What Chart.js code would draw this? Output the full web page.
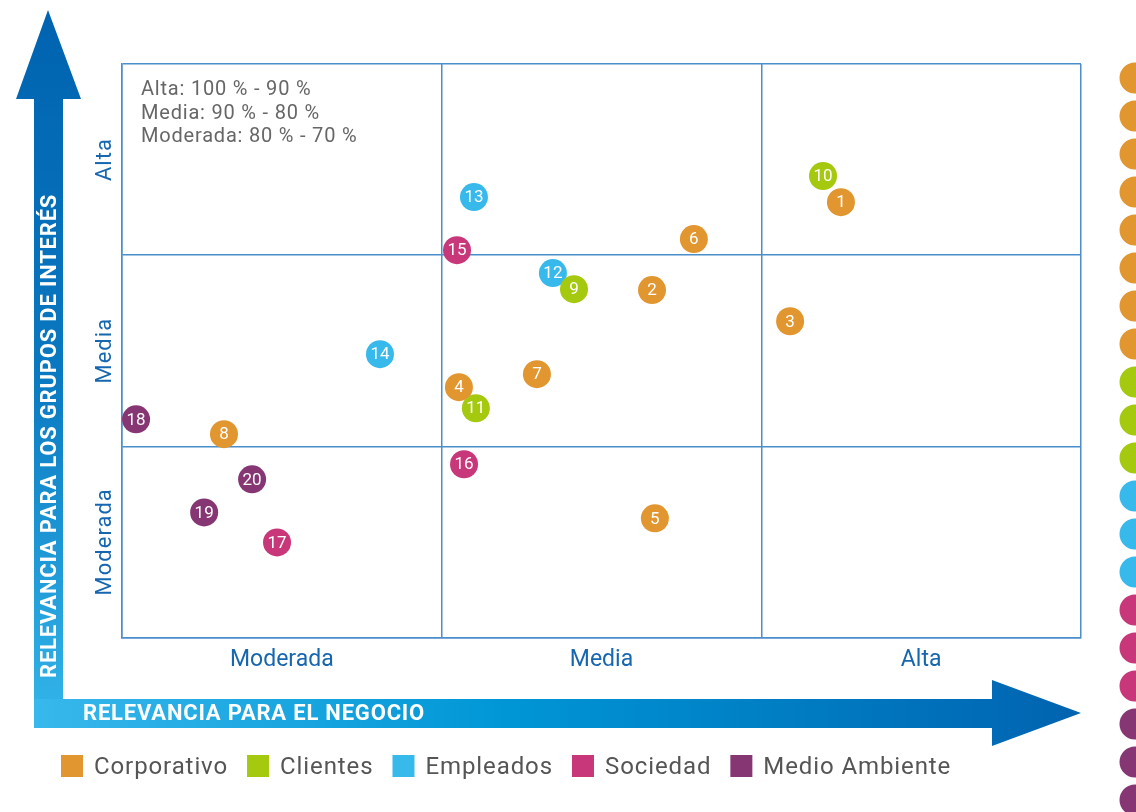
<!DOCTYPE html>
<html>
<head>
<meta charset="utf-8">
<script src="https://cdn.jsdelivr.net/npm/chart.js@4/dist/chart.umd.min.js"></script>
<style>
  html, body { margin: 0; padding: 0; background: #ffffff; }
  #wrap { position: relative; width: 1136px; height: 812px; }
</style>
</head>
<body>
<div id="wrap"><canvas id="c" width="1136" height="812"></canvas></div>
<script>
// ---- data ----
const groupNames = ['Corporativo', 'Clientes', 'Empleados', 'Sociedad', 'Medio Ambiente'];
const groupColors = ['#E1962F', '#A5C90F', '#37B9EC', '#C8377A', '#853673'];
const ids = [1, 2, 3, 4, 5, 6, 7, 8, 9, 10, 11, 12, 13, 14, 15, 16, 17, 18, 19, 20];
const groupOf = [0, 0, 0, 0, 0, 0, 0, 0, 1, 1, 1, 2, 2, 2, 3, 3, 3, 4, 4, 4];
const relevanciaNegocio = [92.49, 86.58, 90.90, 80.54, 86.67, 87.89, 82.98, 73.19, 84.14, 91.93,
                           81.07, 83.48, 81.01, 78.07, 80.48, 80.70, 74.85, 70.44, 72.57, 74.07];
const relevanciaInteres = [92.77, 88.17, 86.54, 83.09, 76.23, 90.84, 83.77, 80.63, 88.22, 94.14,
                           81.99, 89.06, 93.04, 84.82, 90.26, 79.06, 74.97, 81.41, 76.54, 78.27];
const levelLabels = ['Moderada', 'Media', 'Alta'];
const levelCenters = [75, 85, 95];
const tickValues = [70, 75, 80, 85, 90, 95, 100];
const noteLines = ['Alta: 100 % - 90 %', 'Media: 90 % - 80 %', 'Moderada: 80 % - 70 %'];
const xTitle = 'RELEVANCIA PARA EL NEGOCIO';
const yTitle = 'RELEVANCIA PARA LOS GRUPOS DE INTERÉS';

// ---- build datasets ----
const datasets = groupNames.map((name, g) => {
  const pts = [];
  ids.forEach((id, i) => {
    if (groupOf[i] === g) pts.push({ x: relevanciaNegocio[i], y: relevanciaInteres[i], id: id });
  });
  return {
    label: name,
    data: pts,
    backgroundColor: groupColors[g],
    borderWidth: 0,
    pointRadius: 14,
    pointHoverRadius: 14,
    clip: false
  };
});

const FONT = 'Roboto, "DejaVu Sans", sans-serif';
const gridColor = '#4A8ECC';
const axisTextColor = '#1766B0';

const decor = {
  id: 'decor',
  beforeDraw(chart) {
    const ctx = chart.ctx;
    ctx.save();
    // vertical arrow
    let g = ctx.createLinearGradient(0, 10, 0, 728);
    g.addColorStop(0, '#0063B0');
    g.addColorStop(0.5, '#0A78C0');
    g.addColorStop(1, '#33B6EA');
    ctx.fillStyle = g;
    ctx.beginPath();
    ctx.moveTo(48, 10);
    ctx.lineTo(81, 99);
    ctx.lineTo(63, 99);
    ctx.lineTo(63, 699);
    ctx.lineTo(34, 699);
    ctx.lineTo(34, 99);
    ctx.lineTo(16, 99);
    ctx.closePath();
    ctx.fill();
    // horizontal arrow
    g = ctx.createLinearGradient(34, 0, 1081, 0);
    g.addColorStop(0, '#38B8EC');
    g.addColorStop(0.45, '#0096D6');
    g.addColorStop(1, '#0063B0');
    ctx.fillStyle = g;
    ctx.beginPath();
    ctx.moveTo(34, 699);
    ctx.lineTo(992, 699);
    ctx.lineTo(992, 680);
    ctx.lineTo(1081, 713);
    ctx.lineTo(992, 746);
    ctx.lineTo(992, 728);
    ctx.lineTo(34, 728);
    ctx.closePath();
    ctx.fill();
    // arrow titles
    ctx.fillStyle = '#ffffff';
    ctx.font = 'bold 22px ' + FONT;
    ctx.letterSpacing = '0.8px';
    ctx.textBaseline = 'middle';
    ctx.textAlign = 'left';
    ctx.fillText(xTitle, 83, 714);
    ctx.save();
    ctx.translate(49, 678);
    ctx.rotate(-Math.PI / 2);
    ctx.fillText(yTitle, 0, 1);
    ctx.restore();
    ctx.letterSpacing = '0px';
    ctx.restore();
  },
  afterDatasetsDraw(chart) {
    const ctx = chart.ctx;
    ctx.save();
    ctx.fillStyle = '#ffffff';
    ctx.font = '17px ' + FONT;
    ctx.textAlign = 'center';
    ctx.textBaseline = 'middle';
    chart.data.datasets.forEach((ds, di) => {
      const meta = chart.getDatasetMeta(di);
      meta.data.forEach((el, i) => {
        ctx.fillText(String(ds.data[i].id), el.x, el.y + 1);
      });
    });
    ctx.restore();
  },
  afterDraw(chart) {
    const ctx = chart.ctx;
    const ys = chart.scales.y;
    const area = chart.chartArea;
    ctx.save();
    // y level labels (rotated)
    ctx.fillStyle = axisTextColor;
    ctx.font = '22px ' + FONT;
    ctx.letterSpacing = '1px';
    ctx.textAlign = 'center';
    ctx.textBaseline = 'middle';
    levelCenters.forEach((v, i) => {
      const py = ys.getPixelForValue(v);
      ctx.save();
      ctx.translate(area.left - 17, py);
      ctx.rotate(-Math.PI / 2);
      ctx.fillText(levelLabels[i], 0, 0);
      ctx.restore();
    });
    // note
    ctx.fillStyle = '#666666';
    ctx.font = '20px ' + FONT;
    ctx.letterSpacing = '0.8px';
    ctx.textAlign = 'left';
    noteLines.forEach((t, i) => ctx.fillText(t, 141, 90 + i * 23.5));
    // bottom legend
    ctx.font = '24px ' + FONT;
    ctx.letterSpacing = '0.9px';
    let x = 61;
    groupNames.forEach((name, i) => {
      ctx.fillStyle = groupColors[i];
      ctx.fillRect(x, 755, 22, 22);
      ctx.fillStyle = '#555555';
      ctx.fillText(name, x + 33, 768);
      x += 33 + ctx.measureText(name).width + 19;
    });
    ctx.letterSpacing = '0px';
    // right-hand column of markers (cut off list)
    ids.forEach((id, i) => {
      ctx.fillStyle = groupColors[groupOf[i]];
      ctx.beginPath();
      ctx.arc(1135, 78 + i * 38, 15.5, 0, Math.PI * 2);
      ctx.fill();
    });
    ctx.restore();
  }
};

new Chart(document.getElementById('c'), {
  type: 'scatter',
  data: { datasets },
  options: {
    responsive: false,
    animation: false,
    devicePixelRatio: 1,
    events: [],
    layout: { padding: { left: 122, top: 64, right: 55, bottom: 129 } },
    plugins: { legend: { display: false }, tooltip: { enabled: false } },
    scales: {
      x: {
        type: 'linear', min: 70, max: 100,
        afterBuildTicks: s => { s.ticks = tickValues.map(v => ({ value: v })); },
        grid: {
          color: c => (c.tick && c.tick.value % 10 === 0) ? gridColor : 'rgba(0,0,0,0)',
          lineWidth: 1.5, drawTicks: false
        },
        border: { display: true, color: gridColor, width: 1.5 },
        ticks: {
          autoSkip: false, maxRotation: 0, padding: 9,
          color: axisTextColor, font: { family: FONT, size: 23 },
          callback: v => { const k = levelCenters.indexOf(v); return k >= 0 ? levelLabels[k] : ''; }
        }
      },
      y: {
        type: 'linear', min: 70, max: 100,
        afterBuildTicks: s => { s.ticks = tickValues.map(v => ({ value: v })); },
        grid: {
          color: c => (c.tick && c.tick.value % 10 === 0) ? gridColor : 'rgba(0,0,0,0)',
          lineWidth: 1.5, drawTicks: false
        },
        border: { display: true, color: gridColor, width: 1.5 },
        ticks: { display: false }
      }
    }
  },
  plugins: [decor]
});
</script>
</body>
</html>
